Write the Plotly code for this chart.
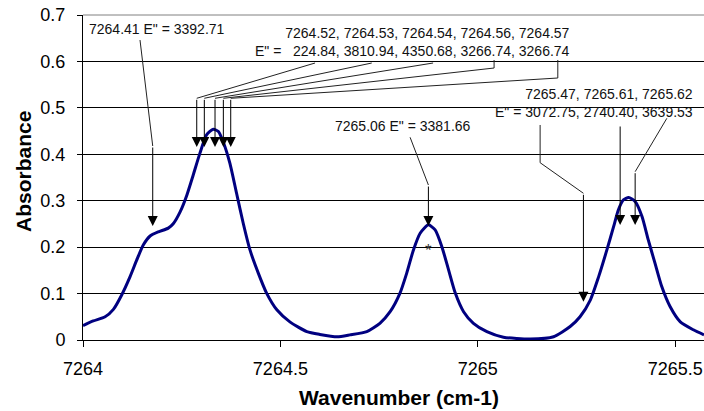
import plotly.graph_objects as go

# ---- data ----
wavenumber = [7264.000, 7264.026, 7264.056, 7264.077, 7264.098, 7264.119, 7264.136, 7264.153,
              7264.170, 7264.191, 7264.216, 7264.229, 7264.246, 7264.263, 7264.279, 7264.296,
              7264.313, 7264.330, 7264.343, 7264.355, 7264.372, 7264.389, 7264.406, 7264.423,
              7264.444, 7264.465, 7264.491, 7264.524, 7264.567, 7264.600, 7264.644, 7264.676,
              7264.719, 7264.752, 7264.778, 7264.803, 7264.820, 7264.837, 7264.854, 7264.875,
              7264.892, 7264.909, 7264.926, 7264.943, 7264.964, 7264.989, 7265.023, 7265.065,
              7265.133, 7265.192, 7265.234, 7265.259, 7265.285, 7265.306, 7265.327, 7265.344,
              7265.356, 7265.369, 7265.382, 7265.399, 7265.416, 7265.432, 7265.449, 7265.466,
              7265.487, 7265.513, 7265.546, 7265.573]
absorbance = [0.031, 0.041, 0.050, 0.066, 0.097, 0.136, 0.172, 0.205,
              0.224, 0.233, 0.241, 0.251, 0.276, 0.312, 0.355, 0.402,
              0.442, 0.454, 0.449, 0.427, 0.381, 0.316, 0.251, 0.194,
              0.144, 0.101, 0.065, 0.039, 0.018, 0.012, 0.007, 0.011,
              0.018, 0.036, 0.061, 0.101, 0.144, 0.194, 0.230, 0.248,
              0.237, 0.201, 0.151, 0.101, 0.061, 0.036, 0.018, 0.006,
              0.002, 0.007, 0.029, 0.050, 0.086, 0.136, 0.194, 0.244,
              0.280, 0.302, 0.307, 0.298, 0.266, 0.215, 0.165, 0.115,
              0.072, 0.039, 0.022, 0.011]

x_tickvals = [7264, 7264.5, 7265, 7265.5]
x_ticktext = ["7264", "7264.5", "7265", "7265.5"]
y_tickvals = [0, 0.1, 0.2, 0.3, 0.4, 0.5, 0.6, 0.7]
y_ticktext = ["0", "0.1", "0.2", "0.3", "0.4", "0.5", "0.6", "0.7"]

# annotation labels
label1 = '7264.41 E" = 3392.71'
label2 = '7264.52, 7264.53, 7264.54, 7264.56, 7264.57<br>E" =   224.84, 3810.94, 4350.68, 3266.74, 3266.74'
label3 = '7265.06 E" = 3381.66'
label4 = '7265.47, 7265.61, 7265.62<br>E" = 3072.75, 2740.40, 3639.53'

# leader lines (x list, y list); last point is the arrow tip
leaders = [
    ([7264.1444, 7264.1766, 7264.1766], [0.6461, 0.4178, 0.2455]),
    ([7264.5878, 7264.2881, 7264.2881], [0.5966, 0.5206, 0.4157]),
    ([7264.7314, 7264.3073, 7264.3073], [0.5966, 0.5206, 0.4157]),
    ([7264.8868, 7264.3344, 7264.3344], [0.5966, 0.5206, 0.4157]),
    ([7265.0413, 7265.0413, 7264.3555, 7264.3555], [0.6031, 0.5858, 0.5206, 0.4157]),
    ([7265.2027, 7265.2027, 7264.3742, 7264.3742], [0.6031, 0.5643, 0.5206, 0.4157]),
    ([7264.8285, 7264.8749, 7264.8749], [0.4366, 0.3338, 0.2455]),
    ([7265.1579, 7265.1579, 7265.2676, 7265.2676], [0.4631, 0.3819, 0.3160, 0.0825]),
    ([7265.3606, 7265.3606], [0.4631, 0.2477]),
    ([7265.4789, 7265.3986, 7265.3986], [0.4775, 0.3625, 0.2477]),
]

fig = go.Figure()

fig.add_trace(go.Scatter(x=wavenumber, y=absorbance, mode="lines",
                         line=dict(color="#000080", width=3, shape="spline", smoothing=0.6),
                         hoverinfo="skip", showlegend=False))

for lx, ly in leaders:
    fig.add_trace(go.Scatter(x=lx[:-1], y=ly[:-1], mode="lines",
                             line=dict(color="#222222", width=1),
                             hoverinfo="skip", showlegend=False))

FONT = "Liberation Sans, Arial, sans-serif"
annotations = []
for lx, ly in leaders:
    annotations.append(dict(x=lx[-1], y=ly[-1], ax=lx[-2], ay=ly[-2],
                            xref="x", yref="y", axref="x", ayref="y",
                            text="", showarrow=True, arrowhead=2, arrowsize=2.0,
                            arrowwidth=1, arrowcolor="#000000", standoff=0))

annotations += [
    dict(x=7264.1875, y=0.6698, text=label1, showarrow=False, xanchor="center", yanchor="middle",
         font=dict(family=FONT, size=14, color="#111111")),
    dict(x=7265.2389, y=0.6418, text=label2, showarrow=False, xanchor="right", yanchor="middle",
         align="right", font=dict(family=FONT, size=14, color="#111111")),
    dict(x=7264.8107, y=0.4609, text=label3, showarrow=False, xanchor="center", yanchor="middle",
         font=dict(family=FONT, size=14, color="#111111")),
    dict(x=7265.5506, y=0.5104, text=label4, showarrow=False, xanchor="right", yanchor="middle",
         align="right", font=dict(family=FONT, size=14, color="#111111")),
    dict(x=7264.875, y=0.1923, text="*", showarrow=False, xanchor="center", yanchor="middle",
         font=dict(family=FONT, size=17, color="#333333")),
    dict(x=0.5089, y=-0.178, xref="paper", yref="paper", text="<b>Wavenumber (cm-1)</b>",
         showarrow=False, xanchor="center", yanchor="middle",
         font=dict(family=FONT, size=21, color="#000000")),
    dict(x=-0.0961, y=0.5178, xref="paper", yref="paper", text="<b>Absorbance</b>",
         showarrow=False, xanchor="center", yanchor="middle", textangle=-90,
         font=dict(family=FONT, size=21, color="#000000")),
]

fig.update_layout(
    width=704, height=411,
    margin=dict(l=83, r=0, t=15, b=71),
    paper_bgcolor="white", plot_bgcolor="white",
    font=dict(family=FONT, size=18, color="#000000"),
    annotations=annotations,
    shapes=[dict(type="line", xref="paper", yref="paper", x0=0, x1=1, y0=1, y1=1,
                 line=dict(color="#808080", width=1))],
    xaxis=dict(range=[7264, 7265.573], tickvals=x_tickvals, ticktext=x_ticktext,
               showgrid=False, zeroline=False, showline=True, linecolor="#000000",
               linewidth=1, ticks="outside", ticklen=6, tickcolor="#000000",
               ticklabelstandoff=6, tickfont=dict(family=FONT, size=18)),
    yaxis=dict(range=[0, 0.7], tickvals=y_tickvals, ticktext=y_ticktext,
               showgrid=True, gridcolor="#000000", gridwidth=1, zeroline=False,
               showline=True, linecolor="#000000", linewidth=1, ticks="outside",
               ticklen=5, tickcolor="#000000", ticklabelstandoff=8,
               tickfont=dict(family=FONT, size=18)),
)

fig.write_html("out.html",
               config={"displayModeBar": False},
               post_script="document.body.style.margin='0';document.body.style.padding='0';"
                           "document.body.style.overflow='hidden';")
